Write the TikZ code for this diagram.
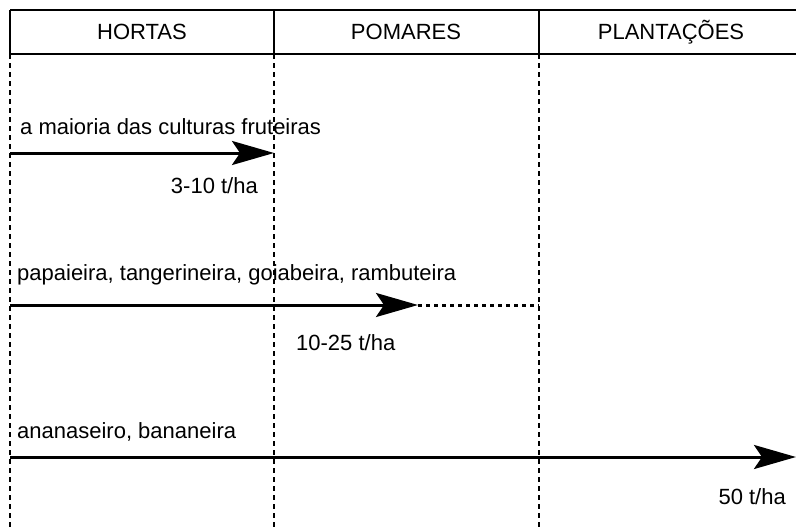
\documentclass[tikz,border=0pt]{standalone}
\usepackage{fontspec}
\setmainfont{Liberation Sans}
\usetikzlibrary{arrows.meta}
\begin{document}
\begin{tikzpicture}[x=1pt, y=-1pt,
    lbl/.style={font=\fontsize{22}{26}\selectfont, inner sep=0pt},
    grid/.style={line width=1.2pt, dash pattern=on 5pt off 4pt},
    flow/.style={line width=3pt, -{Stealth[length=42pt, width=24pt, inset=8pt]}},
    todo/.style={line width=3pt, dash pattern=on 4pt off 4pt}]
                \useasboundingbox (0,0) rectangle (796,530);
                % header
                \coordinate (tl) at (10,10);
                \coordinate (tr) at (796,10);
                \coordinate (bl) at (10,54);
                \coordinate (br) at (796,54);
                \draw [line width=1.2pt] (tl) -- (tr);
                \draw [line width=1.2pt] (bl) -- (br);
                \draw [line width=1.2pt] (10,10) -- (10,54);
                \draw [line width=1.2pt] (274,10) -- (274,54);
                \draw [line width=1.2pt] (539,10) -- (539,54);
                \node [lbl] (hortas) at (142,32) {HORTAS};
                \node [lbl] (pomares) at (406,32) {POMARES};
                \node [lbl] (plant) at (671,32) {PLANTAÇÕES};
                % columns
                \draw [grid] (10,54) -- (10,530);
                \draw [grid] (274,54) -- (274,530);
                \draw [grid] (539,54) -- (539,530);
                % arrows
                \coordinate (a1) at (10,153);
                \coordinate (b1) at (274,153);
                \coordinate (a2) at (10,305);
                \coordinate (b2) at (418,305);
                \coordinate (c2) at (539,305);
                \coordinate (a3) at (10,457);
                \coordinate (b3) at (796,457);
                \draw [flow] (a1) -- (b1);
                \draw [todo] (b2) -- (c2);
                \draw [flow] (a2) -- (b2);
                \draw [flow] (a3) -- (b3);
                \node [lbl, anchor=west] (crop1) at (20,127) {a maioria das culturas fruteiras};
                \node [lbl, anchor=east] (yield1) at (258,186) {3-10 t/ha};
                \node [lbl, anchor=west] (crop2) at (17,275) {papaieira, tangerineira, goiabeira, rambuteira};
                \node [lbl, anchor=west] (yield2) at (296,343) {10-25 t/ha};
                \node [lbl, anchor=west] (crop3) at (17,432) {ananaseiro, bananeira};
                \node [lbl, anchor=east] (yield3) at (786,497) {50 t/ha};
            \end{tikzpicture}
\end{document}
